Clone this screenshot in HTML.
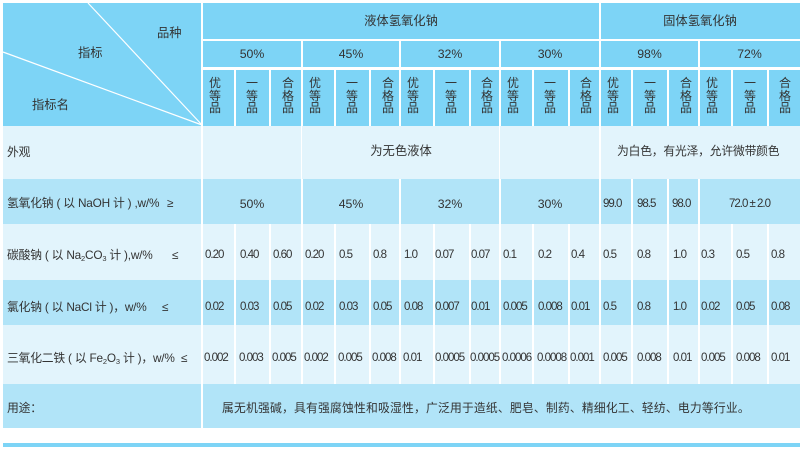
<!DOCTYPE html>
<html><head><meta charset="utf-8"><style>
body{margin:0;width:806px;height:455px;background:#fff;position:relative;overflow:hidden;font-family:"Liberation Sans","Noto Sans CJK SC",sans-serif;color:#333;}
div{position:absolute;}
.r{left:3px;width:797px;}
.v{width:2px;background:#fff;}
.t{font-size:12.3px;line-height:16px;white-space:nowrap;}
.l{font-size:11.8px;line-height:16px;white-space:nowrap;letter-spacing:-0.2px;}
.n{font-size:11.5px;letter-spacing:-1px;line-height:14px;white-space:nowrap;}
.vt{font-size:12px;line-height:12.5px;width:14px;text-align:center;top:77px;}
.c{text-align:center;}
sub{font-size:7.5px;line-height:0;vertical-align:-2px;}
</style></head><body>
<div class="r" style="top:3px;height:123px;background:#7dd4f6"></div>
<div class="r" style="top:126px;height:53px;background:#e2f4fc"></div>
<div class="r" style="top:179px;height:45px;background:#b1e4f8"></div>
<div class="r" style="top:224px;height:56px;background:#e2f4fc"></div>
<div class="r" style="top:280px;height:45px;background:#b1e4f8"></div>
<div class="r" style="top:325px;height:59px;background:#e2f4fc"></div>
<div class="r" style="top:384px;height:44px;background:#b1e4f8"></div>
<div class="r" style="top:443px;height:4px;background:#7dd4f6"></div>
<div style="left:202px;top:39px;width:598px;height:2px;background:#fff"></div>
<div style="left:202px;top:67px;width:598px;height:3px;background:#fff"></div>
<svg style="position:absolute;left:0;top:0" width="806" height="130"><line x1="88" y1="3" x2="202" y2="125" stroke="#fff" stroke-width="1.2"/><line x1="3" y1="52" x2="202" y2="125" stroke="#fff" stroke-width="1.2"/></svg>
<div class="v" style="left:201px;top:3px;height:425px"></div>
<div class="v" style="left:599px;top:3px;height:221px"></div>
<div class="v" style="left:301px;top:41px;height:26px"></div>
<div class="v" style="left:399px;top:41px;height:26px"></div>
<div class="v" style="left:499px;top:41px;height:26px"></div>
<div class="v" style="left:698px;top:41px;height:26px"></div>
<div class="v" style="left:234px;top:70px;height:56px"></div>
<div class="v" style="left:269px;top:70px;height:56px"></div>
<div class="v" style="left:301px;top:70px;height:56px"></div>
<div class="v" style="left:334px;top:70px;height:56px"></div>
<div class="v" style="left:369px;top:70px;height:56px"></div>
<div class="v" style="left:399px;top:70px;height:56px"></div>
<div class="v" style="left:433px;top:70px;height:56px"></div>
<div class="v" style="left:469px;top:70px;height:56px"></div>
<div class="v" style="left:499px;top:70px;height:56px"></div>
<div class="v" style="left:532px;top:70px;height:56px"></div>
<div class="v" style="left:568px;top:70px;height:56px"></div>
<div class="v" style="left:631px;top:70px;height:56px"></div>
<div class="v" style="left:667px;top:70px;height:56px"></div>
<div class="v" style="left:698px;top:70px;height:56px"></div>
<div class="v" style="left:731px;top:70px;height:56px"></div>
<div class="v" style="left:767px;top:70px;height:56px"></div>
<div class="v" style="left:301px;top:126px;height:53px;width:1px"></div>
<div class="v" style="left:499px;top:126px;height:53px;width:1px"></div>
<div class="v" style="left:301px;top:179px;height:45px"></div>
<div class="v" style="left:399px;top:179px;height:45px"></div>
<div class="v" style="left:499px;top:179px;height:45px"></div>
<div class="v" style="left:631px;top:179px;height:45px"></div>
<div class="v" style="left:667px;top:179px;height:45px"></div>
<div class="v" style="left:698px;top:179px;height:45px"></div>
<div class="v" style="left:234px;top:224px;height:160px"></div>
<div class="v" style="left:269px;top:224px;height:160px"></div>
<div class="v" style="left:301px;top:224px;height:160px"></div>
<div class="v" style="left:334px;top:224px;height:160px"></div>
<div class="v" style="left:369px;top:224px;height:160px"></div>
<div class="v" style="left:399px;top:224px;height:160px"></div>
<div class="v" style="left:433px;top:224px;height:160px"></div>
<div class="v" style="left:469px;top:224px;height:160px"></div>
<div class="v" style="left:499px;top:224px;height:160px"></div>
<div class="v" style="left:532px;top:224px;height:160px"></div>
<div class="v" style="left:568px;top:224px;height:160px"></div>
<div class="v" style="left:599px;top:224px;height:160px"></div>
<div class="v" style="left:631px;top:224px;height:160px"></div>
<div class="v" style="left:667px;top:224px;height:160px"></div>
<div class="v" style="left:698px;top:224px;height:160px"></div>
<div class="v" style="left:731px;top:224px;height:160px"></div>
<div class="v" style="left:767px;top:224px;height:160px"></div>

<div class="t" style="left:157px;top:25px">品种</div>
<div class="t" style="left:78px;top:45px">指标</div>
<div class="t" style="left:32px;top:97px">指标名</div>
<div class="t c" style="left:202px;width:398px;top:13px">液体氢氧化钠</div>
<div class="t c" style="left:600px;width:200px;top:13px">固体氢氧化钠</div>
<div class="t c" style="left:202px;width:100px;top:46px">50%</div>
<div class="t c" style="left:302px;width:98px;top:46px">45%</div>
<div class="t c" style="left:400px;width:100px;top:46px">32%</div>
<div class="t c" style="left:500px;width:100px;top:46px">30%</div>
<div class="t c" style="left:600px;width:99px;top:46px">98%</div>
<div class="t c" style="left:699px;width:101px;top:46px">72%</div>

<div class="vt" style="left:208px">优<br>等<br>品</div><div class="vt" style="left:245px">一<br>等<br>品</div><div class="vt" style="left:281px">合<br>格<br>品</div>
<div class="vt" style="left:308px">优<br>等<br>品</div><div class="vt" style="left:345px">一<br>等<br>品</div><div class="vt" style="left:381px">合<br>格<br>品</div>
<div class="vt" style="left:406px">优<br>等<br>品</div><div class="vt" style="left:444px">一<br>等<br>品</div><div class="vt" style="left:480px">合<br>格<br>品</div>
<div class="vt" style="left:506px">优<br>等<br>品</div><div class="vt" style="left:543px">一<br>等<br>品</div><div class="vt" style="left:579px">合<br>格<br>品</div>
<div class="vt" style="left:606px">优<br>等<br>品</div><div class="vt" style="left:643px">一<br>等<br>品</div><div class="vt" style="left:679px">合<br>格<br>品</div>
<div class="vt" style="left:705px">优<br>等<br>品</div><div class="vt" style="left:743px">一<br>等<br>品</div><div class="vt" style="left:778px">合<br>格<br>品</div>

<div class="l" style="left:7px;top:144px">外观</div>
<div class="l" style="left:7px;top:195px">氢氧化钠 ( 以 NaOH 计 ) ,w/%</div><div class="l" style="left:167px;top:195px">≥</div>
<div class="l" style="left:7px;top:247px">碳酸钠 ( 以 Na<sub>2</sub>CO<sub>3</sub> 计 ),w/%</div><div class="l" style="left:172px;top:247px">≤</div>
<div class="l" style="left:7px;top:299px">氯化钠 ( 以 NaCl 计 )，w/%</div><div class="l" style="left:162px;top:299px">≤</div>
<div class="l" style="left:7px;top:350px">三氧化二铁 ( 以 Fe<sub>2</sub>O<sub>3</sub> 计 )，w/%</div><div class="l" style="left:181px;top:350px">≤</div>
<div class="l" style="left:7px;top:400px">用途：</div>

<div class="t c" style="left:202px;width:398px;top:143px">为无色液体</div>
<div class="l" style="left:617px;top:143px">为白色，有光泽，允许微带颜色</div>
<div class="l" style="left:222px;top:400px;letter-spacing:0.2px">属无机强碱，具有强腐蚀性和吸湿性，广泛用于造纸、肥皂、制药、精细化工、轻纺、电力等行业。</div>

<div class="t c" style="left:202px;width:100px;top:196px">50%</div>
<div class="t c" style="left:302px;width:98px;top:196px">45%</div>
<div class="t c" style="left:400px;width:100px;top:196px">32%</div>
<div class="t c" style="left:500px;width:100px;top:196px">30%</div>
<div class="n" style="left:603px;top:197px">99.0</div>
<div class="n" style="left:637px;top:197px">98.5</div>
<div class="n" style="left:672px;top:197px">98.0</div>
<div class="n c" style="left:699px;width:101px;top:197px">72.0 ± 2.0</div>

<div class="n" style="left:205px;top:248px">0.20</div><div class="n" style="left:240px;top:248px">0.40</div><div class="n" style="left:273px;top:248px">0.60</div>
<div class="n" style="left:305px;top:248px">0.20</div><div class="n" style="left:339px;top:248px">0.5</div><div class="n" style="left:373px;top:248px">0.8</div>
<div class="n" style="left:404px;top:248px">1.0</div><div class="n" style="left:435px;top:248px">0.07</div><div class="n" style="left:471px;top:248px">0.07</div>
<div class="n" style="left:503px;top:248px">0.1</div><div class="n" style="left:538px;top:248px">0.2</div><div class="n" style="left:571px;top:248px">0.4</div>
<div class="n" style="left:603px;top:248px">0.5</div><div class="n" style="left:637px;top:248px">0.8</div><div class="n" style="left:673px;top:248px">1.0</div>
<div class="n" style="left:701px;top:248px">0.3</div><div class="n" style="left:736px;top:248px">0.5</div><div class="n" style="left:771px;top:248px">0.8</div>
<div class="n" style="left:205px;top:300px">0.02</div><div class="n" style="left:240px;top:300px">0.03</div><div class="n" style="left:273px;top:300px">0.05</div>
<div class="n" style="left:305px;top:300px">0.02</div><div class="n" style="left:339px;top:300px">0.03</div><div class="n" style="left:373px;top:300px">0.05</div>
<div class="n" style="left:404px;top:300px">0.08</div><div class="n" style="left:435px;top:300px">0.007</div><div class="n" style="left:471px;top:300px">0.01</div>
<div class="n" style="left:503px;top:300px">0.005</div><div class="n" style="left:538px;top:300px">0.008</div><div class="n" style="left:571px;top:300px">0.01</div>
<div class="n" style="left:603px;top:300px">0.5</div><div class="n" style="left:637px;top:300px">0.8</div><div class="n" style="left:673px;top:300px">1.0</div>
<div class="n" style="left:701px;top:300px">0.02</div><div class="n" style="left:736px;top:300px">0.05</div><div class="n" style="left:771px;top:300px">0.08</div>
<div class="n" style="left:204px;top:351px">0.002</div><div class="n" style="left:239px;top:351px">0.003</div><div class="n" style="left:272px;top:351px">0.005</div>
<div class="n" style="left:304px;top:351px">0.002</div><div class="n" style="left:338px;top:351px">0.005</div><div class="n" style="left:372px;top:351px">0.008</div>
<div class="n" style="left:403px;top:351px">0.01</div><div class="n" style="left:435px;top:351px">0.0005</div><div class="n" style="left:470px;top:351px">0.0005</div>
<div class="n" style="left:502px;top:351px">0.0006</div><div class="n" style="left:537px;top:351px">0.0008</div><div class="n" style="left:570px;top:351px">0.001</div>
<div class="n" style="left:603px;top:351px">0.005</div><div class="n" style="left:637px;top:351px">0.008</div><div class="n" style="left:673px;top:351px">0.01</div>
<div class="n" style="left:701px;top:351px">0.005</div><div class="n" style="left:736px;top:351px">0.008</div><div class="n" style="left:771px;top:351px">0.01</div>
</body></html>
